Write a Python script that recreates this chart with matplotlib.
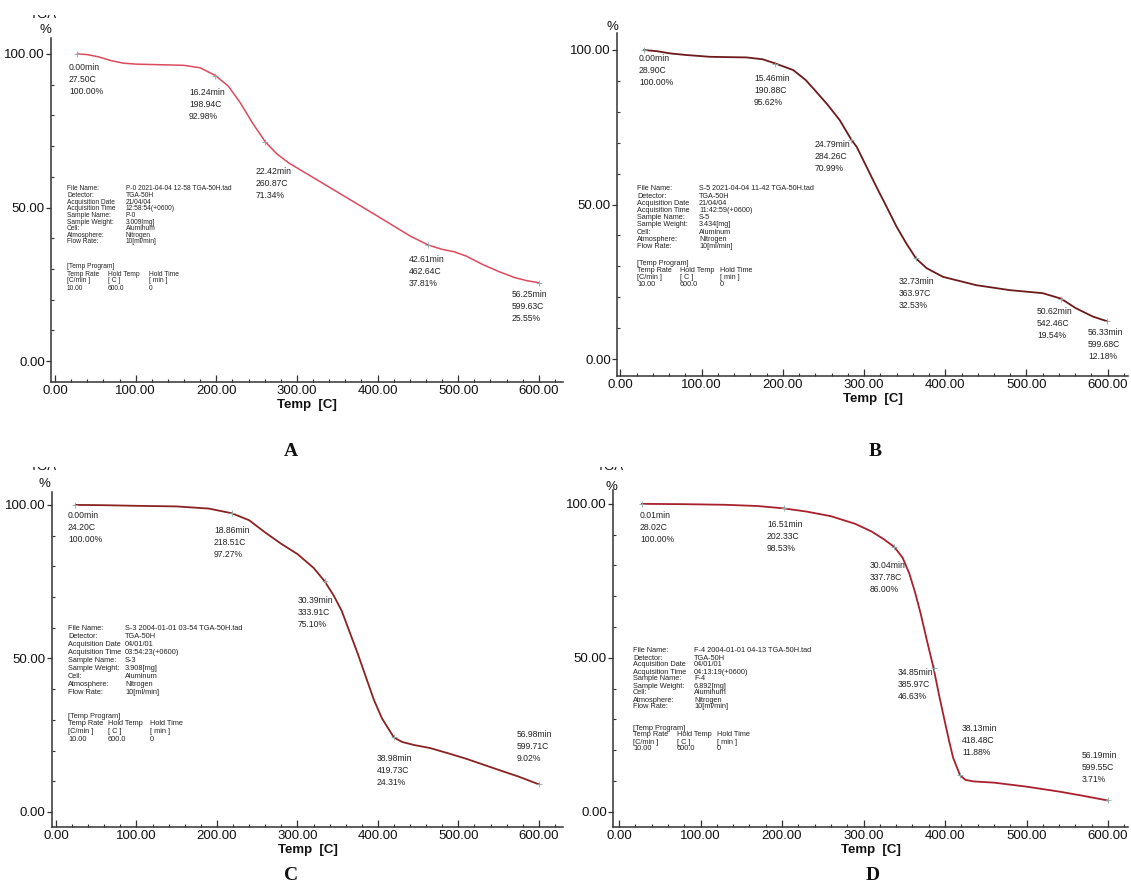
import matplotlib
matplotlib.use("Agg")
import matplotlib.pyplot as plt
from matplotlib.ticker import MultipleLocator, FormatStrFormatter
from matplotlib.patches import Rectangle

plt.rcParams['font.family'] = ['Liberation Sans', 'DejaVu Sans']

W, H = 1131, 890

# ---- curvas TGA (temperatura C, masa %) ----
a_temp = [27.5, 40, 55, 70, 85, 100, 130, 160, 180, 198.94, 215, 230, 245, 260.87, 275, 290,
          320, 360, 400, 440, 462.64, 480, 495, 510, 530, 550, 570, 585, 599.63]
a_mass = [100.0, 99.8, 99.0, 97.8, 97.0, 96.7, 96.5, 96.3, 95.5, 92.98, 89.5, 84.0, 77.5, 71.34, 67.5, 64.5,
          59.8, 53.5, 47.2, 40.8, 37.81, 36.4, 35.6, 34.2, 31.5, 29.2, 27.2, 26.2, 25.55]

b_temp = [28.9, 45, 61, 80, 110, 130, 155, 175, 190.88, 212.7, 228, 240, 255, 270, 284.26, 291,
          303, 315, 327.6, 340, 352, 363.97, 377, 397, 438, 479, 520, 542.46, 561, 582, 599.68]
b_mass = [100.0, 99.6, 98.9, 98.4, 97.8, 97.7, 97.6, 97.0, 95.62, 93.5, 90.3, 86.8, 82.3, 77.3, 70.99, 68.6,
          62.2, 55.8, 49.3, 42.8, 37.4, 32.53, 29.4, 26.6, 23.9, 22.3, 21.3, 19.54, 16.4, 13.7, 12.18]

c_temp = [24.2, 60, 100, 150, 190, 218.51, 240, 260, 280, 300, 320, 333.91, 345, 355, 365, 375,
          385, 395, 405, 419.73, 430, 445, 465, 490, 510, 530, 550, 575, 599.71]
c_mass = [100.0, 99.9, 99.7, 99.5, 98.8, 97.27, 95.0, 91.0, 87.3, 84.0, 79.5, 75.10, 70.5, 65.5, 58.5, 51.5,
          44.0, 36.5, 30.5, 24.31, 22.8, 21.8, 20.8, 18.9, 17.3, 15.5, 13.7, 11.5, 9.02]

d_temp = [28.02, 80, 130, 170, 202.33, 230, 260, 290, 310, 325, 337.78, 348, 356, 363, 370, 377,
          385.97, 393, 400, 405, 410, 418.48, 425, 435, 460, 500, 540, 570, 599.55]
d_mass = [100.0, 99.9, 99.7, 99.3, 98.53, 97.5, 96.0, 93.5, 91.0, 88.5, 86.00, 82.5, 77.5, 71.5, 64.5, 56.5,
          46.63, 37.5, 29.0, 23.0, 17.5, 11.88, 10.4, 9.9, 9.5, 8.2, 6.6, 5.2, 3.71]

# ---- puntos anotados (min, C, %) ----
a_min = [0.00, 16.24, 22.42, 42.61, 56.25]
a_c = [27.50, 198.94, 260.87, 462.64, 599.63]
a_pct = [100.00, 92.98, 71.34, 37.81, 25.55]

b_min = [0.00, 15.46, 24.79, 32.73, 50.62, 56.33]
b_c = [28.90, 190.88, 284.26, 363.97, 542.46, 599.68]
b_pct = [100.00, 95.62, 70.99, 32.53, 19.54, 12.18]

c_min = [0.00, 18.86, 30.39, 38.98, 56.98]
c_c = [24.20, 218.51, 333.91, 419.73, 599.71]
c_pct = [100.00, 97.27, 75.10, 24.31, 9.02]

d_min = [0.01, 16.51, 30.04, 34.85, 38.13, 56.19]
d_c = [28.02, 202.33, 337.78, 385.97, 418.48, 599.55]
d_pct = [100.00, 98.53, 86.00, 46.63, 11.88, 3.71]

# ---- cabecera de cada archivo ----
info_keys = ["File Name:", "Detector:", "Acquisition Date", "Acquisition Time", "Sample Name:",
             "Sample Weight:", "Cell:", "Atmosphere:", "Flow Rate:"]
a_info = ["P-0 2021-04-04 12-58 TGA-50H.tad", "TGA-50H", "21/04/04", "12:58:54(+0600)", "P-0",
          "3.009[mg]", "Aluminum", "Nitrogen", "10[ml/min]"]
b_info = ["S-5 2021-04-04 11-42 TGA-50H.tad", "TGA-50H", "21/04/04", "11:42:59(+0600)", "S-5",
          "3.434[mg]", "Aluminum", "Nitrogen", "10[ml/min]"]
c_info = ["S-3 2004-01-01 03-54 TGA-50H.tad", "TGA-50H", "04/01/01", "03:54:23(+0600)", "S-3",
          "3.908[mg]", "Aluminum", "Nitrogen", "10[ml/min]"]
d_info = ["F-4 2004-01-01 04-13 TGA-50H.tad", "TGA-50H", "04/01/01", "04:13:19(+0600)", "F-4",
          "6.892[mg]", "Aluminum", "Nitrogen", "10[ml/min]"]
prog_rows = [["Temp Rate", "Hold Temp", "Hold Time"],
             ["[C/min ]", "[ C ]", "[ min ]"],
             ["10.00", "600.0", "0"]]

fig = plt.figure(figsize=(W / 100, H / 100), dpi=100)
fig.patch.set_facecolor("white")


def fx(x):
    return x / W


def fy(y):
    return 1 - y / H


def txt(x, y, s, **kw):
    kw.setdefault("fontsize", 6)
    kw.setdefault("color", "#222222")
    kw.setdefault("va", "center")
    kw.setdefault("ha", "left")
    fig.text(fx(x), fy(y), s, **kw)


def panel(box, xlim, ylim, temp, mass, color, lw, pts, lab_xy, info, info_lay, ylab_xy, tga_xy, letter_xy, letter):
    l, t, r, b = box
    ax = fig.add_axes([fx(l), fy(b), (r - l) / W, (b - t) / H])
    ax.plot(temp, mass, color=color, lw=lw, solid_capstyle="round", solid_joinstyle="round")
    mins, cs, pcts = pts
    ax.plot(cs, pcts, ls="none", marker="+", ms=5, mew=0.6, color="#8fa8a8")
    ax.set_xlim(*xlim)
    ax.set_ylim(*ylim)
    for s in ["top", "right"]:
        ax.spines[s].set_visible(False)
    for s in ["left", "bottom"]:
        ax.spines[s].set_color("#333333")
        ax.spines[s].set_linewidth(1.1)
    ax.set_xticks(range(0, 601, 100))
    ax.xaxis.set_minor_locator(MultipleLocator(20))
    ax.set_yticks([0, 50, 100])
    ax.yaxis.set_minor_locator(MultipleLocator(10))
    ax.xaxis.set_major_formatter(FormatStrFormatter("%.2f"))
    ax.yaxis.set_major_formatter(FormatStrFormatter("%.2f"))
    ax.tick_params(axis="x", which="major", direction="in", length=5, width=0.9, pad=2.5,
                   labelsize=9.5, colors="#333333", labelcolor="#111111")
    ax.tick_params(axis="x", which="minor", direction="in", length=2.5, width=0.8, colors="#333333")
    ax.tick_params(axis="y", which="major", direction="out", length=3.5, width=0.9, pad=1,
                   labelsize=9.5, colors="#333333", labelcolor="#111111")
    ax.tick_params(axis="y", which="minor", direction="in", length=2, width=0.8, colors="#333333")
    ax.set_xlabel("Temp  [C]", fontsize=9.5, fontweight="bold", color="#111111", labelpad=1)

    # etiquetas de los puntos
    for (x, y), m, c, p in zip(lab_xy, mins, cs, pcts):
        txt(x, y, f"{m:.2f}min\n{c:.2f}C\n{p:.2f}%", fontsize=6.2, va="top", linespacing=1.45)

    # bloque de informacion
    x0, x1, y0, step, ytp, tstep, xh1, xh2, fs = info_lay
    for i, (k, v) in enumerate(zip(info_keys, info)):
        txt(x0, y0 + i * step, k, fontsize=fs)
        txt(x1, y0 + i * step, v, fontsize=fs)
    txt(x0, ytp, "[Temp Program]", fontsize=fs)
    for j, row in enumerate(prog_rows):
        yy = ytp + (j + 1) * tstep
        for xx, s in zip([x0, xh1, xh2], row):
            txt(xx, yy, s, fontsize=fs)

    txt(ylab_xy[0], ylab_xy[1], "%", fontsize=9.5, ha="center", color="#111111")
    if tga_xy is not None:
        txt(tga_xy[0], tga_xy[1], "TGA", fontsize=9.5, ha="center", va="baseline", color="#111111")
        fig.patches.append(Rectangle((fx(tga_xy[0] - 20), fy(tga_xy[1] - 3)), 40 / W, 14 / H,
                                     transform=fig.transFigure, facecolor="white",
                                     edgecolor="none", zorder=10))
    fig.text(fx(letter_xy[0]), fy(letter_xy[1]), letter, fontsize=14, fontweight="bold",
             family="Liberation Serif", ha="center", va="center", color="#111111")
    return ax


panel((51, 38, 563, 382), (-5, 630), (-6.8, 105.2), a_temp, a_mass, "#dc4a5e", 1.1,
      (a_min, a_c, a_pct), [(69, 63), (189, 88), (256, 167), (409, 255), (512, 290)],
      a_info, (67, 126, 189, 6.6, 267, 7.0, 108, 149, 4.8), (45, 30), (43, 18), (291, 452), "A")

panel((617, 33, 1128, 376), (-4.3, 625), (-5.5, 105.5), b_temp, b_mass, "#6e1a1a", 1.3,
      (b_min, b_c, b_pct), [(639, 54), (754, 74), (815, 140), (899, 277), (1037, 307), (1088, 328)],
      b_info, (637, 699, 189, 7.2, 263, 7.0, 680, 720, 5.2), (612, 27), None, (875, 452), "B")

panel((52, 492, 563, 827), (-5, 630), (-4.9, 104.2), c_temp, c_mass, "#8a2222", 1.3,
      (c_min, c_c, c_pct), [(68, 511), (214, 526), (298, 596), (377, 754), (517, 730)],
      c_info, (68, 125, 629, 8.0, 716, 7.7, 108, 150, 5.3), (44, 484), (43, 470), (291, 876), "C")

panel((613, 490, 1128, 827), (-7.4, 624.5), (-4.9, 104.5), d_temp, d_mass, "#a8202c", 1.3,
      (d_min, d_c, d_pct), [(640, 511), (767, 520), (870, 561), (898, 668), (962, 724), (1082, 751)],
      d_info, (633, 694, 651, 7.0, 728, 7.0, 677, 717, 5.3), (611, 487), (610, 470), (873, 876), "D")

fig.savefig("out.png", dpi=100, facecolor="white")
